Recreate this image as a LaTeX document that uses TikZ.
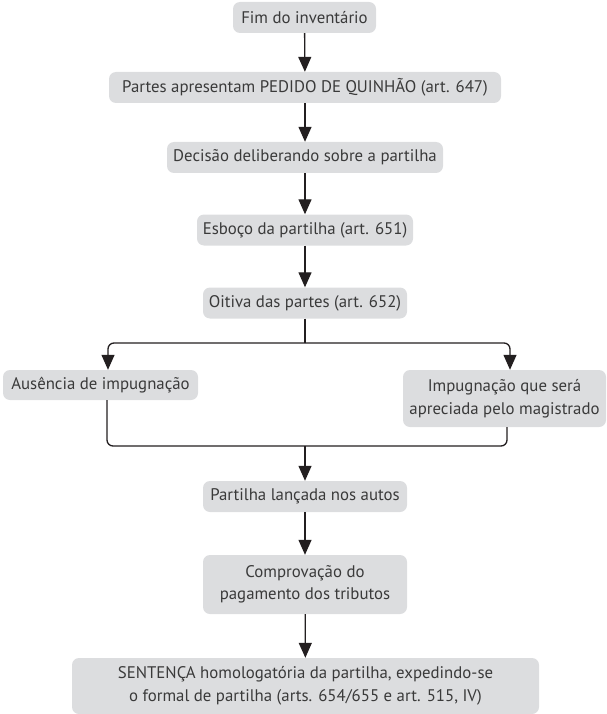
\documentclass[tikz,border=0pt]{standalone}
\usepackage{fontspec}
\setmainfont{PT Sans}
\usetikzlibrary{arrows.meta,positioning}
\definecolor{boxfill}{HTML}{DCDDDF}
\definecolor{boxtext}{HTML}{3A3A3A}
\definecolor{linecol}{HTML}{231F20}
\tikzset{
  stepbox/.style={draw=none, fill=boxfill, rounded corners=7pt, text=boxtext,
    inner sep=0pt, align=center, font=\fontsize{16.8}{22.5}\selectfont},
  link/.style={draw=linecol, line width=1.3pt},
  flow/.style={link, -{Triangle[length=15pt,width=13pt]}},
}
\begin{document}
\begin{tikzpicture}[x=1pt,y=-1pt]
\useasboundingbox (0,0) rectangle (606,714);
% main chain
\node[stepbox, minimum width=143pt, minimum height=31pt] (fim) at (304.5,17.5) {Fim do inventário};
\node[stepbox, minimum width=392pt, minimum height=31pt] (pedido) at (305,87.5) {Partes apresentam PEDIDO DE QUINHÃO (art. 647)};
\node[stepbox, minimum width=276pt, minimum height=31pt] (decisao) at (305,157.5) {Decisão deliberando sobre a partilha};
\node[stepbox, minimum width=216pt, minimum height=31pt] (esboco) at (305,230) {Esboço da partilha (art. 651)};
\node[stepbox, minimum width=204pt, minimum height=31pt] (oitiva) at (305,303) {Oitiva das partes (art. 652)};
% the two branches
\node[stepbox, minimum width=195pt, minimum height=30pt] (ausencia) at (100.5,385) {Ausência de impugnação};
\node[stepbox, minimum width=203pt, minimum height=57pt] (impug) at (504.5,398.5) {Impugnação que será\\apreciada pelo magistrado};
% after the merge
\node[stepbox, minimum width=204pt, minimum height=31pt] (lancada) at (305,496.5) {Partilha lançada nos autos};
\node[stepbox, minimum width=204pt, minimum height=59pt] (tributos) at (305,584.5) {Comprovação do\\pagamento dos tributos};
\node[stepbox, minimum width=467pt, minimum height=56pt] (sentenca) at (305.5,686) {SENTENÇA homologatória da partilha, expedindo-se\\o formal de partilha (arts. 654/655 e art. 515, IV)};

\coordinate (split) at (305,343);
\coordinate (join) at (305,446);

\draw[flow] (fim) -- (pedido);
\draw[flow] (pedido) -- (decisao);
\draw[flow] (decisao) -- (esboco);
\draw[flow] (esboco) -- (oitiva);
\draw[link] (oitiva) -- (split);
\draw[flow, rounded corners=6pt] (split) -| ([xshift=7.5pt]ausencia.north);
\draw[flow, rounded corners=6pt] (split) -| ([xshift=5.5pt]impug.north);
\draw[link, rounded corners=6pt] ([xshift=6.5pt]ausencia.south) |- (join) -| ([xshift=2.5pt]impug.south);
\draw[flow] (join) -- (lancada);
\draw[flow] (lancada) -- (tributos);
\draw[flow] (tributos) -- (sentenca);
\end{tikzpicture}
\end{document}
